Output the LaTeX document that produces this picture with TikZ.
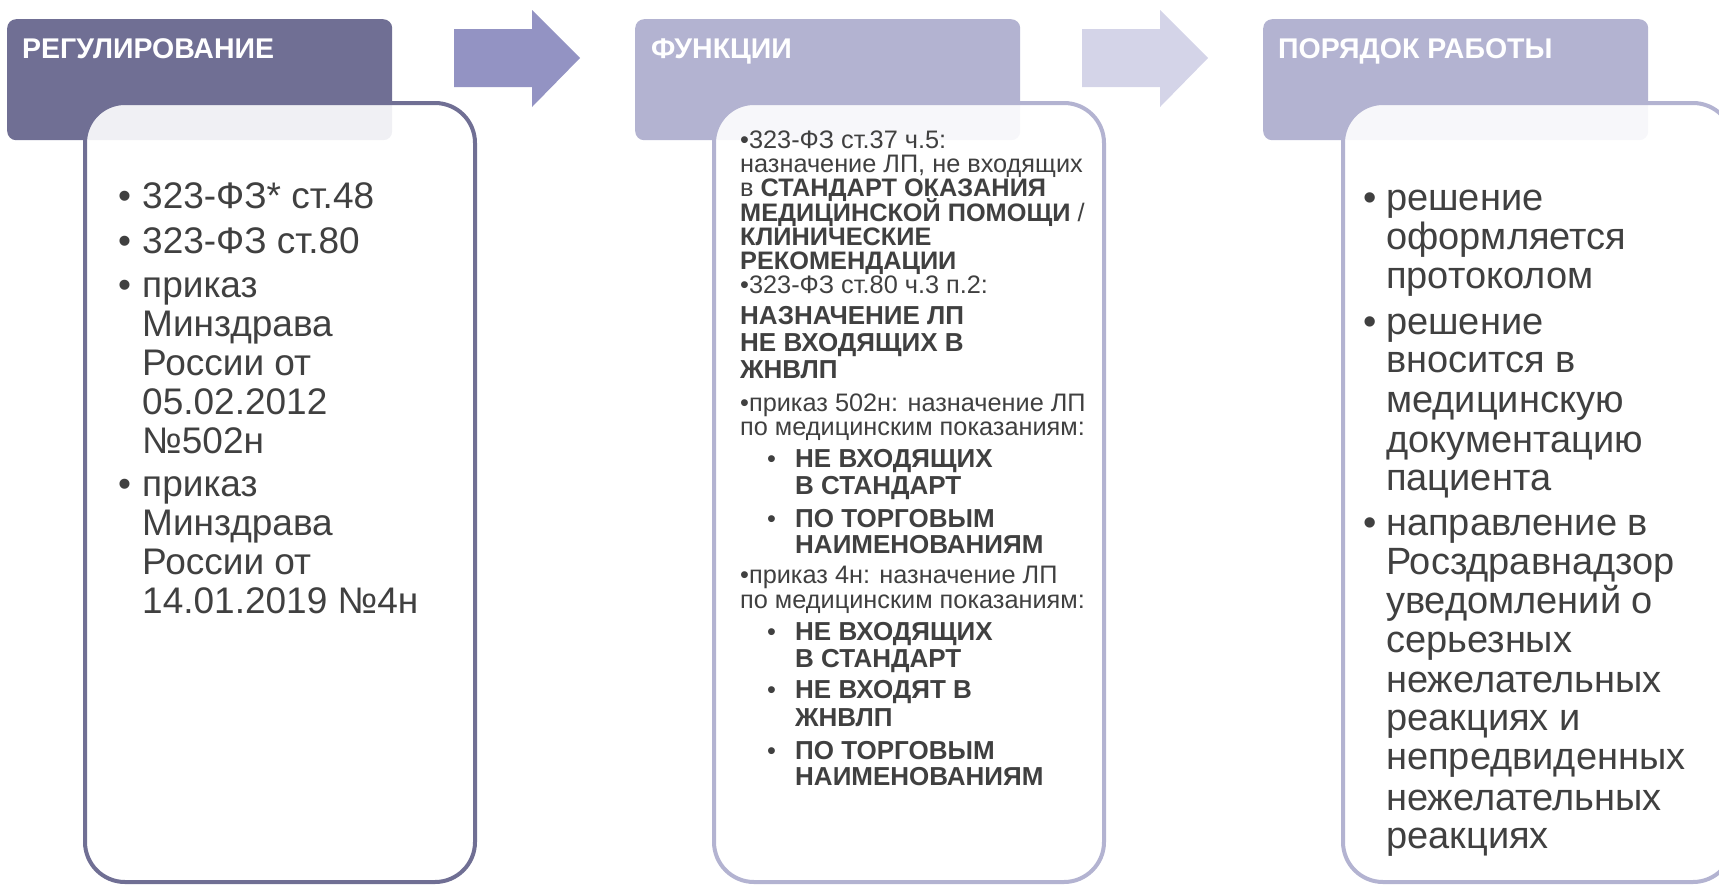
\documentclass[tikz,border=0pt]{standalone}
\usepackage{fontspec}
\setmainfont{Liberation Sans}
\definecolor{hdA}{HTML}{706F94}
\definecolor{hdB}{HTML}{B3B3D1}
\definecolor{arA}{HTML}{9393C3}
\definecolor{arB}{HTML}{D4D4E8}
\definecolor{txt}{HTML}{404040}
\begin{document}
\begin{tikzpicture}[x=1pt,y=-1pt,
  hdrbox/.style={rounded corners=9pt, anchor=north west, minimum width=385pt, minimum height=121pt, inner sep=0pt},
  cbox/.style={rounded corners=40pt, anchor=north west, minimum width=390pt, minimum height=779pt, inner sep=0pt, line width=4pt, fill=white, fill opacity=0.9},
  hdrtext/.style={anchor=base west, inner sep=0pt, text=white, font=\fontsize{28.5}{30}\selectfont\bfseries},
  ctext/.style={anchor=base west, inner sep=0pt, text=txt, font=\fontsize{37}{39}\selectfont},
  ctextc/.style={anchor=base west, inner sep=0pt, text=txt, font=\fontsize{38}{39}\selectfont},
  mtext/.style={anchor=base west, inner sep=0pt, text=txt, font=\fontsize{25.3}{26}\selectfont},
  mbig/.style={anchor=base west, inner sep=0pt, text=txt, font=\fontsize{26}{28}\selectfont\bfseries},
  arrowA/.style={fill=arA},
  arrowB/.style={fill=arB}]
\useasboundingbox (0,0) rectangle (1719,884);
\clip (0,0) rectangle (1719,884);

% headers
\node[hdrbox, fill=hdA] (h1) at (7,19) {};
\node[hdrbox, fill=hdB] (h2) at (635,19) {};
\node[hdrbox, fill=hdB] (h3) at (1263,19) {};

% arrows
\fill[arrowA] (454,29) -- (532,29) -- (532,10) -- (580,58) -- (532,107) -- (532,87) -- (454,87) -- cycle;
\fill[arrowB] (1082,29) -- (1160,29) -- (1160,10) -- (1208,58) -- (1160,107) -- (1160,87) -- (1082,87) -- cycle;

% content boxes
\node[cbox, draw=hdA] (c1) at (83,101) {};
\node[cbox, draw=hdB] (c2) at (712,101) {};
\node[cbox, draw=hdB] (c3) at (1341,101) {};

% header texts
\node[hdrtext] (t1) at (22,58) {РЕГУЛИРОВАНИЕ};
\node[hdrtext] (t2) at (651,58) {ФУНКЦИИ};
\node[hdrtext] (t3) at (1278,58) {ПОРЯДОК РАБОТЫ};

% column 1
\node[ctext] (p1) at (118,208) {•};
\node[ctext] (a1) at (142,208) {323-ФЗ* ст.48};
\node[ctext] (p2) at (118,253) {•};
\node[ctext] (a2) at (142,253) {323-ФЗ ст.80};
\node[ctext] (p3) at (118,297) {•};
\node[ctext] (a3) at (142,297) {приказ};
\node[ctext] (a4) at (142,336) {Минздрава};
\node[ctext] (a5) at (142,375) {России от};
\node[ctext] (a6) at (142,414) {05.02.2012};
\node[ctext] (a7) at (142,453) {№502н};
\node[ctext] (p4) at (118,496) {•};
\node[ctext] (a8) at (142,496) {приказ};
\node[ctext] (a9) at (142,535) {Минздрава};
\node[ctext] (a10) at (142,574) {России от};
\node[ctext] (a11) at (142,613) {14.01.2019 №4н};

% column 2
\node[mtext] (m1) at (740,148) {•323-ФЗ ст.37 ч.5:};
\node[mtext] (m2) at (740,172) {назначение ЛП, не входящих};
\node[mtext] (m3) at (740,196) {в \textbf{СТАНДАРТ ОКАЗАНИЯ}};
\node[mtext] (m4) at (740,221) {\textbf{МЕДИЦИНСКОЙ ПОМОЩИ} /};
\node[mtext] (m5) at (740,245) {\textbf{КЛИНИЧЕСКИЕ}};
\node[mtext] (m6) at (740,269) {\textbf{РЕКОМЕНДАЦИИ}};
\node[mtext] (m7) at (740,293) {•323-ФЗ ст.80 ч.3 п.2:};
\node[mbig] (m8) at (740,324) {НАЗНАЧЕНИЕ ЛП};
\node[mbig] (m9) at (740,351) {НЕ ВХОДЯЩИХ В};
\node[mbig] (m10) at (740,378) {ЖНВЛП};
\node[mtext] (m11) at (740,411) {•приказ 502н: назначение ЛП};
\node[mtext] (m12) at (740,435) {по медицинским показаниям:};
\node[mtext] (q1) at (767,467) {•};
\node[mbig] (m13) at (795,467) {НЕ ВХОДЯЩИХ};
\node[mbig] (m14) at (795,494) {В СТАНДАРТ};
\node[mtext] (q2) at (767,527) {•};
\node[mbig] (m15) at (795,527) {ПО ТОРГОВЫМ};
\node[mbig] (m16) at (795,553) {НАИМЕНОВАНИЯМ};
\node[mtext] (m17) at (740,583) {•приказ 4н: назначение ЛП};
\node[mtext] (m18) at (740,608) {по медицинским показаниям:};
\node[mtext] (q3) at (767,640) {•};
\node[mbig] (m19) at (795,640) {НЕ ВХОДЯЩИХ};
\node[mbig] (m20) at (795,667) {В СТАНДАРТ};
\node[mtext] (q4) at (767,698) {•};
\node[mbig] (m21) at (795,698) {НЕ ВХОДЯТ В};
\node[mbig] (m22) at (795,726) {ЖНВЛП};
\node[mtext] (q5) at (767,759) {•};
\node[mbig] (m23) at (795,759) {ПО ТОРГОВЫМ};
\node[mbig] (m24) at (795,785) {НАИМЕНОВАНИЯМ};

% column 3
\node[ctextc] (r1) at (1363,210) {•};
\node[ctextc] (s1) at (1386,210) {решение};
\node[ctextc] (s2) at (1386,249.3) {оформляется};
\node[ctextc] (s3) at (1386,288.7) {протоколом};
\node[ctextc] (r2) at (1363,334.1) {•};
\node[ctextc] (s4) at (1386,334.1) {решение};
\node[ctextc] (s5) at (1386,372.4) {вносится в};
\node[ctextc] (s6) at (1386,412.8) {медицинскую};
\node[ctextc] (s7) at (1386,452.1) {документацию};
\node[ctextc] (s8) at (1386,490.4) {пациента};
\node[ctextc] (r3) at (1363,535.8) {•};
\node[ctextc] (s9) at (1386,535.8) {направление в};
\node[ctextc] (s10) at (1386,574.1) {Росздравнадзор};
\node[ctextc] (s11) at (1386,613.5) {уведомлений о};
\node[ctextc] (s12) at (1386,652.8) {серьезных};
\node[ctextc] (s13) at (1386,692.1) {нежелательных};
\node[ctextc] (s14) at (1386,730.5) {реакциях и};
\node[ctextc] (s15) at (1386,769.8) {непредвиденных};
\node[ctextc] (s16) at (1386,810.2) {нежелательных};
\node[ctextc] (s17) at (1386,848.5) {реакциях};
\end{tikzpicture}
\end{document}
